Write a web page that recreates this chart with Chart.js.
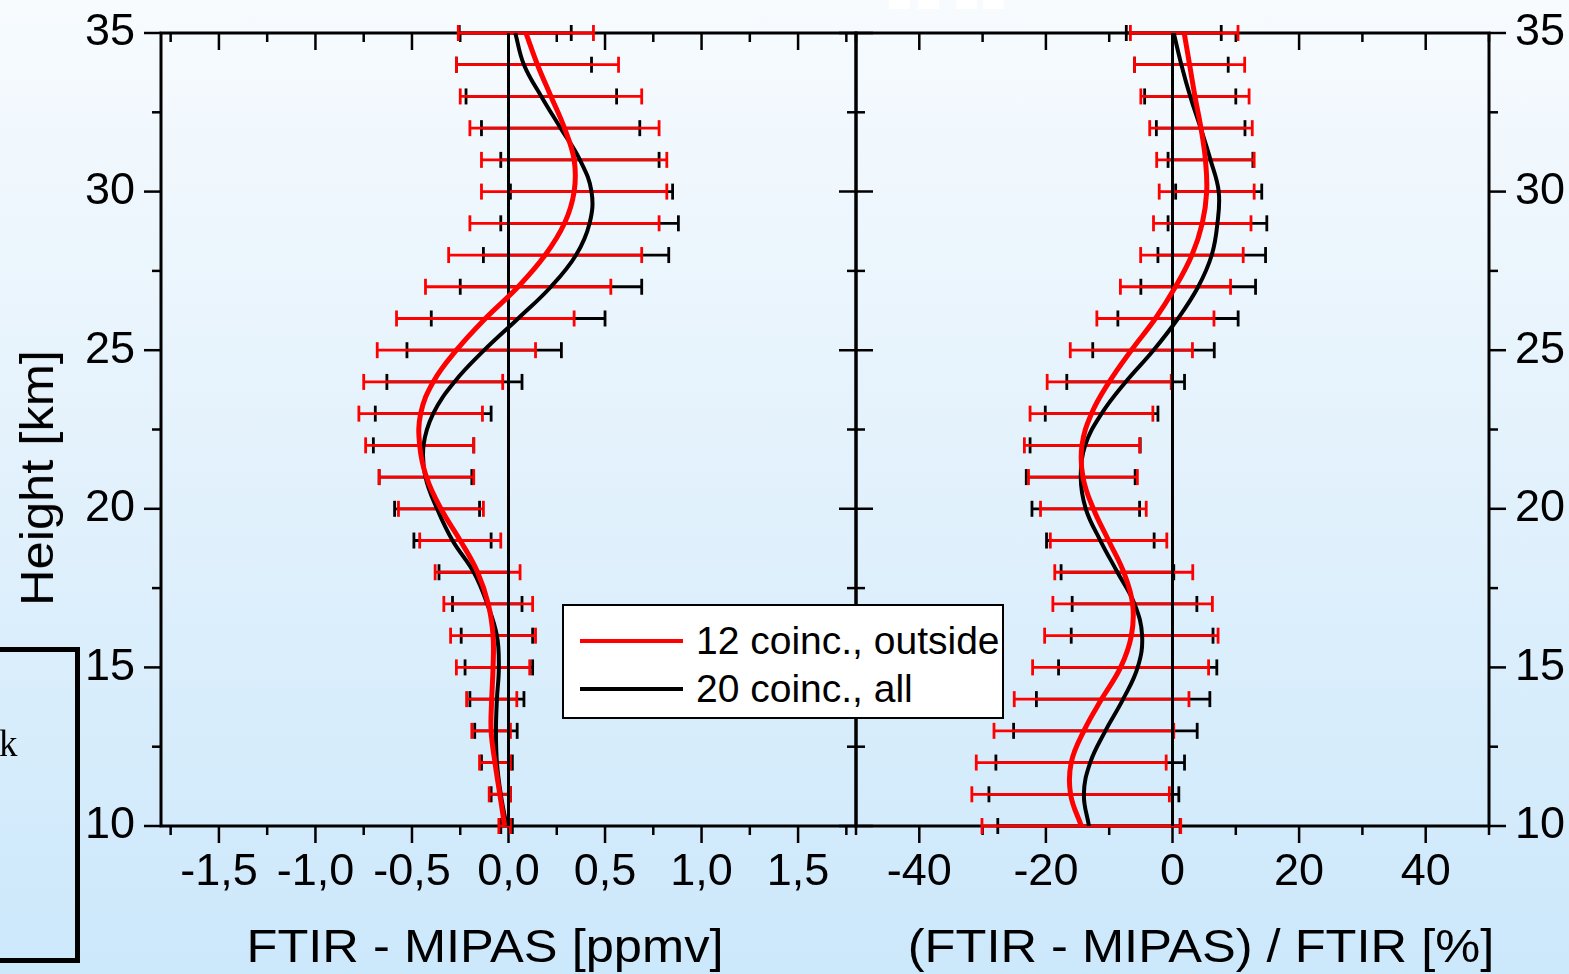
<!DOCTYPE html>
<html lang="en">
<head>
<meta charset="UTF-8">
<title>FTIR - MIPAS</title>
<script src="https://cdn.jsdelivr.net/npm/chart.js"></script>
<style>
  html, body { margin: 0; padding: 0; }
  body {
    width: 1569px; height: 974px; position: relative; overflow: hidden;
    background: linear-gradient(to bottom, #f7fbfe 0%, #e4f2fc 45%, #cce8fb 100%);
    font-family: "Liberation Sans", Arial, sans-serif; color: #000;
  }
  canvas { position: absolute; top: 0; }
  #leftChart { left: 0; }
  #rightChart { left: 830px; }
  .title { position: absolute; font-size: 46px; line-height: 1; white-space: nowrap; }
  #legend { position: absolute; left: 562px; top: 604px; width: 438px; height: 111px;
    border: 2px solid #000; background: #fff; }
  #legend .item { position: absolute; left: 0; height: 40px; }
  #legend .swatch { position: absolute; left: 16px; top: 18px; width: 103px; height: 4px; }
  #legend .text { position: absolute; left: 132px; top: 0; font-size: 39px; line-height: 40px; white-space: nowrap; }
  .deco { position: absolute; }
</style>
</head>
<body>
<canvas id="leftChart" width="870" height="974"></canvas>
<canvas id="rightChart" width="739" height="974"></canvas>

<div class="title" style="left:485px; top:923px; transform:translateX(-50%) scaleX(1.1);">FTIR - MIPAS [ppmv]</div>
<div class="title" style="left:1201px; top:923px; transform:translateX(-50%) scaleX(1.1);">(FTIR - MIPAS) / FTIR [%]</div>
<div class="title" style="left:37px; top:478px; transform:translate(-50%,-50%) rotate(-90deg) scaleX(1.1);">Height [km]</div>

<div id="legend"></div>

<!-- bits of the slide around the figure -->
<div class="deco" style="left:-10px; top:647px; width:80px; height:306px; border:5px solid #000;"></div>
<div class="deco" style="left:-1px; top:722px; font-family:'Liberation Serif', serif; font-size:37px;">k</div>
<div class="deco" style="left:889px; top:0; width:21px; height:9px; background:#fff;"></div>
<div class="deco" style="left:918px; top:0; width:21px; height:9px; background:#fff;"></div>
<div class="deco" style="left:956px; top:0; width:21px; height:9px; background:#fff;"></div>
<div class="deco" style="left:983px; top:0; width:21px; height:9px; background:#fff;"></div>

<script>
// heights of the profile levels [km]
const heights = [10, 11, 12, 13, 14, 15, 16, 17, 18, 19, 20, 21, 22, 23, 24, 25, 26, 27, 28, 29, 30, 31, 32, 33, 34, 35];

const seriesLabels = ['12 coinc., outside', '20 coinc., all'];

// FTIR - MIPAS [ppmv]
const ppmvOutside = [-0.02, -0.045, -0.07, -0.09, -0.087, -0.08, -0.08, -0.105, -0.16, -0.25, -0.35, -0.425, -0.46,
  -0.455, -0.39, -0.27, -0.12, 0.05, 0.19, 0.29, 0.34, 0.34, 0.29, 0.22, 0.15, 0.09];
const ppmvOutsideErr = [0.03, 0.055, 0.08, 0.10, 0.13, 0.19, 0.22, 0.23, 0.22, 0.21, 0.22, 0.245, 0.28,
  0.32, 0.36, 0.41, 0.46, 0.48, 0.50, 0.49, 0.48, 0.48, 0.49, 0.47, 0.42, 0.35];
const ppmvAll = [-0.01, -0.04, -0.06, -0.065, -0.06, -0.05, -0.06, -0.11, -0.18, -0.29, -0.37, -0.43, -0.44,
  -0.39, -0.28, -0.126, 0.05, 0.22, 0.35, 0.42, 0.43, 0.37, 0.27, 0.17, 0.08, 0.035];
const ppmvAllErr = [0.03, 0.05, 0.08, 0.11, 0.14, 0.175, 0.185, 0.18, 0.18, 0.20, 0.22, 0.24, 0.26,
  0.30, 0.35, 0.40, 0.45, 0.47, 0.48, 0.46, 0.42, 0.41, 0.41, 0.39, 0.35, 0.29];

// (FTIR - MIPAS) / FTIR [%]
const pctOutside = [-14.4, -16.1, -16.0, -14.0, -11.2, -8.2, -6.5, -6.3, -7.7, -10.1, -12.5, -14.15, -14.3,
  -12.8, -10.0, -6.5, -2.7, 0.47, 3.07, 4.7, 5.4, 5.2, 4.5, 3.55, 2.7, 1.85];
const pctOutsideErr = [15.7, 15.6, 15.0, 14.2, 13.8, 13.9, 13.7, 12.6, 10.9, 9.2, 8.35, 8.6, 9.1,
  9.7, 9.8, 9.65, 9.25, 8.7, 8.1, 7.7, 7.5, 7.7, 8.1, 8.55, 8.7, 8.5];
const pctAll = [-13.2, -14.0, -13.0, -10.6, -7.8, -5.5, -4.8, -6.0, -8.7, -11.4, -13.7, -14.5, -13.8,
  -11.2, -7.4, -3.0, 0.87, 4.06, 6.2, 7.1, 7.3, 6.0, 4.45, 2.8, 1.4, 0.2];
const pctAllErr = [14.4, 15.0, 14.9, 14.5, 13.7, 12.5, 11.2, 9.85, 8.9, 8.5, 8.5, 8.6, 8.7,
  8.9, 9.3, 9.6, 9.5, 9.06, 8.5, 7.8, 6.8, 6.7, 7.0, 7.2, 7.4, 7.5];

// tick labels
const ppmvTickLabels = [-1.5, -1.0, -0.5, 0, 0.5, 1.0, 1.5];
const pctTickLabels = [-40, -20, 0, 20, 40];
const heightTickLabels = [10, 15, 20, 25, 30, 35];

Chart.defaults.font.family = '"Liberation Sans", Arial, sans-serif';
Chart.defaults.color = '#000';

function points(xs) {
  return xs.map((v, i) => ({ x: v, y: heights[i] }));
}

function line(ctx, x0, y0, x1, y1) {
  ctx.beginPath();
  ctx.moveTo(x0, y0);
  ctx.lineTo(x1, y1);
  ctx.stroke();
}

// frame, tick marks, error bars and the zero line, all under the curves
const profilePlot = {
  id: 'profilePlot',
  beforeDatasetsDraw(chart, args, opts) {
    const { ctx, chartArea: a, scales: { x, y } } = chart;
    ctx.save();
    ctx.strokeStyle = '#000';
    ctx.lineWidth = 3;
    ctx.strokeRect(a.left, a.top, a.right - a.left, a.bottom - a.top);

    ctx.lineWidth = 2.5;
    x.ticks.forEach(t => {
      const px = x.getPixelForValue(t.value);
      const len = opts.xMajor.includes(t.value) ? 17 : 9;
      line(ctx, px, a.bottom, px, a.bottom + len);
      line(ctx, px, a.top, px, a.top + len);
    });
    y.ticks.forEach(t => {
      const py = y.getPixelForValue(t.value);
      const len = heightTickLabels.includes(t.value) ? 17 : 9;
      if (opts.left === 'out') line(ctx, a.left - len, py, a.left, py);
      if (opts.left === 'cross') line(ctx, a.left - len, py, a.left + len, py);
      if (opts.right === 'out') line(ctx, a.right, py, a.right + len, py);
    });

    // error bars, black series first so the red ones sit on top
    for (let i = chart.data.datasets.length - 1; i >= 0; i--) {
      const ds = chart.data.datasets[i];
      ctx.strokeStyle = ds.borderColor;
      ctx.lineWidth = 2.8;
      ds.data.forEach((p, k) => {
        const e = ds.errors[k];
        const x0 = x.getPixelForValue(p.x - e);
        const x1 = x.getPixelForValue(p.x + e);
        const py = y.getPixelForValue(p.y);
        line(ctx, x0, py, x1, py);
        line(ctx, x0, py - 8, x0, py + 8);
        line(ctx, x1, py - 8, x1, py + 8);
      });
    }

    ctx.strokeStyle = '#000';
    ctx.lineWidth = 3;
    const zx = x.getPixelForValue(0);
    line(ctx, zx, a.top, zx, a.bottom);
    ctx.restore();
  }
};

function makeChart(id, opts) {
  const ctx = document.getElementById(id).getContext('2d');
  return new Chart(ctx, {
    type: 'scatter',
    data: {
      datasets: [{
        label: seriesLabels[0],
        data: points(opts.outside),
        errors: opts.outsideErr,
        borderColor: '#ff0000',
        borderWidth: 5,
        showLine: true,
        tension: 0.4,
        pointRadius: 0
      }, {
        label: seriesLabels[1],
        data: points(opts.all),
        errors: opts.allErr,
        borderColor: '#000000',
        borderWidth: 4,
        showLine: true,
        tension: 0.4,
        pointRadius: 0
      }]
    },
    plugins: [profilePlot],
    options: {
      responsive: false,
      animation: false,
      layout: { padding: opts.padding },
      plugins: {
        legend: { display: false },
        tooltip: { enabled: false },
        profilePlot: { xMajor: opts.xLabels, left: opts.leftTicks, right: opts.rightTicks }
      },
      scales: {
        x: {
          type: 'linear',
          min: opts.xMin,
          max: opts.xMax,
          grid: { display: false, drawTicks: false },
          border: { display: false },
          ticks: {
            stepSize: opts.xStep,
            includeBounds: false,
            autoSkip: false,
            maxRotation: 0,
            padding: 20,
            font: { size: 45 },
            callback: v => opts.xLabels.includes(v) ? opts.fmt(v) : ''
          },
          afterFit: s => { s.height = 148; s.paddingLeft = 0; s.paddingRight = 0; }
        },
        y: {
          type: 'linear',
          min: 10,
          max: 35,
          position: opts.yPos,
          grid: { display: false, drawTicks: false },
          border: { display: false },
          ticks: {
            stepSize: 2.5,
            includeBounds: false,
            autoSkip: false,
            padding: 26,
            font: { size: 45 },
            callback: v => heightTickLabels.includes(v) ? String(v) : ''
          },
          afterFit: s => { s.width = opts.yWidth; s.paddingTop = 0; s.paddingBottom = 0; }
        }
      }
    }
  });
}

const leftChart = makeChart('leftChart', {
  outside: ppmvOutside, outsideErr: ppmvOutsideErr, all: ppmvAll, allErr: ppmvAllErr,
  xMin: -1.8, xMax: 1.8, xStep: 0.25, xLabels: ppmvTickLabels,
  fmt: v => v.toFixed(1).replace('.', ','),
  yPos: 'left', yWidth: 161,
  padding: { top: 33, right: 14, left: 0, bottom: 0 },
  leftTicks: 'out', rightTicks: 'none'
});

const rightChart = makeChart('rightChart', {
  outside: pctOutside, outsideErr: pctOutsideErr, all: pctAll, allErr: pctAllErr,
  xMin: -50, xMax: 50, xStep: 10, xLabels: pctTickLabels,
  fmt: v => String(v),
  yPos: 'right', yWidth: 80,
  padding: { top: 33, right: 0, left: 26, bottom: 0 },
  leftTicks: 'cross', rightTicks: 'out'
});

// legend box built from the chart's datasets
const legend = document.getElementById('legend');
leftChart.data.datasets.forEach((ds, i) => {
  const item = document.createElement('div');
  item.className = 'item';
  item.style.top = (15 + i * 48) + 'px';
  item.innerHTML = '<span class="swatch" style="background:' + ds.borderColor + '"></span>' +
    '<span class="text">' + ds.label + '</span>';
  legend.appendChild(item);
});
</script>
</body>
</html>
